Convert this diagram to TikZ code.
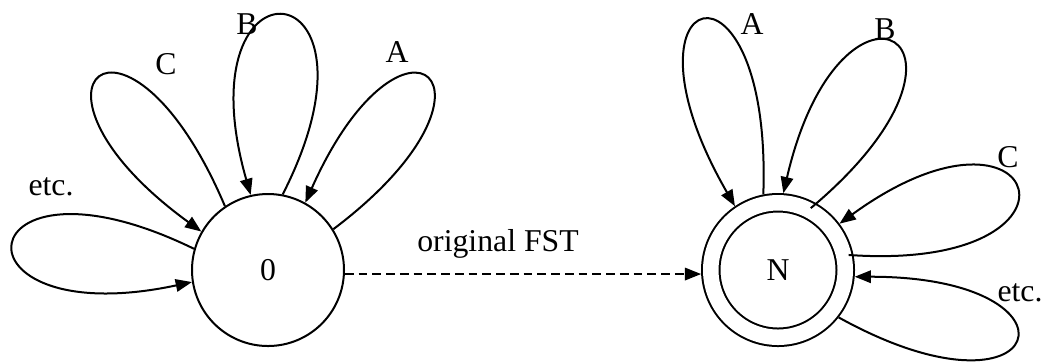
\documentclass[tikz,border=0pt]{standalone}
\usepackage{fontspec}
\setmainfont{Liberation Serif}
\usetikzlibrary{arrows.meta}
\tikzset{
	state/.style={circle,draw,line width=0.8pt,minimum size=60.8pt,inner sep=0pt,font=\fontsize{12.7pt}{15pt}\selectfont},
	accept/.style={state,double,double distance=6.2pt,minimum size=53.8pt,outer sep=3.9pt},
	selfloop/.style={line width=0.8pt,-{Triangle[length=6.5pt,width=5pt]}},
	lbl/.style={inner sep=0pt,font=\fontsize{12.7pt}{15pt}\selectfont}
}
\begin{document}
\begin{tikzpicture}[x=0.4pt,y=-0.4pt]
		\useasboundingbox (0,0) rectangle (1046,363);

		\node[state] (z0) at (268,270) {0};
		\node[accept] (zN) at (778,270) {N};

		\draw[selfloop] (z0.164) to[out=154,in=192,distance=102pt] (z0.189);
		\draw[selfloop] (z0.124) to[out=113,in=144,distance=100pt] (z0.150);
		\draw[selfloop] (z0.79) to[out=63,in=106,distance=103pt] (z0.103);
		\draw[selfloop] (z0.32) to[out=37,in=66,distance=96pt] (z0.61);

		\draw[selfloop] (zN.101) to[out=88,in=120,distance=103pt] (zN.124);
		\draw[selfloop,shorten <=-3pt] (zN.60) to[out=40,in=77,distance=102pt] (zN.86);
		\draw[selfloop,shorten <=-2pt] (zN.11) to[out=-4,in=36,distance=101pt] (zN.37);
		\draw[selfloop] (zN.-38) to[out=-29,in=0,distance=96pt] (zN.-5);

		\draw[selfloop,dash pattern=on 3.5pt off 2pt] (z0.-3) -- (zN.183);

		\node[lbl] (l0etc) at (51,187) {etc.};
		\node[lbl] (l0c) at (166,64) {C};
		\node[lbl] (l0b) at (247,24) {B};
		\node[lbl] (l0a) at (397,52) {A};
		\node[lbl] (lNa) at (752,24) {A};
		\node[lbl] (lNb) at (885,29) {B};
		\node[lbl] (lNc) at (1008,157) {C};
		\node[lbl] (lNetc) at (1020,293) {etc.};
		\node[lbl] (lfst) at (498,244) {original FST};
	\end{tikzpicture}
\end{document}
